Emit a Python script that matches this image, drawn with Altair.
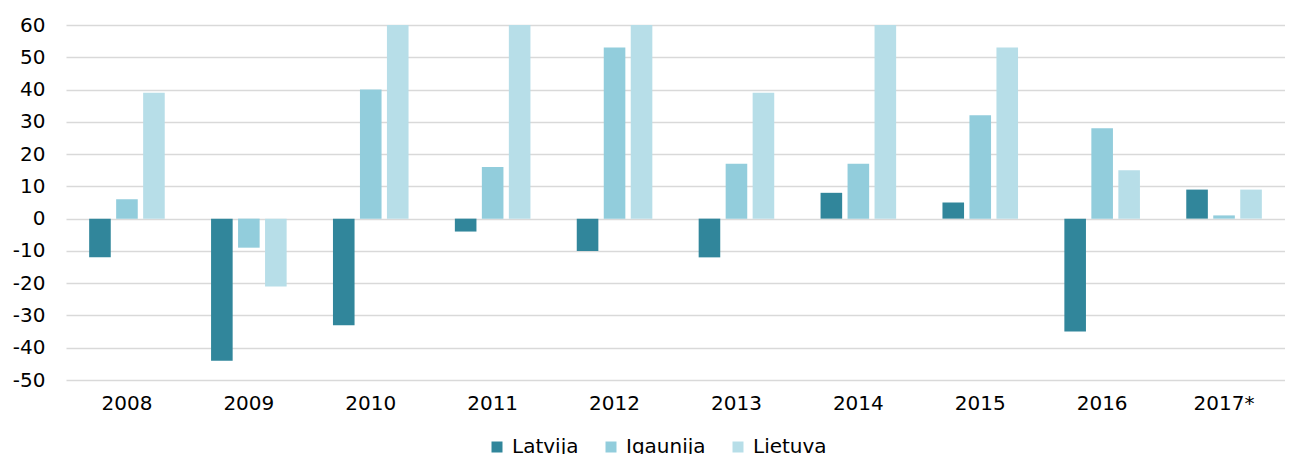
import altair as alt
import pandas as pd

years = ["2008", "2009", "2010", "2011", "2012", "2013", "2014", "2015", "2016", "2017*"]
series = ["Latvija", "Igaunija", "Lietuva"]
latvija = [-12, -44, -33, -4, -10, -12, 8, 5, -35, 9]
igaunija = [6, -9, 40, 16, 53, 17, 17, 32, 28, 1]
lietuva = [39, -21, 60, 60, 60, 39, 60, 53, 15, 9]
colors = ["#31869B", "#92CDDC", "#B7DEE8"]
y_ticks = [-50, -40, -30, -20, -10, 0, 10, 20, 30, 40, 50, 60]

rows = []
for name, vals in zip(series, [latvija, igaunija, lietuva]):
    for yr, v in zip(years, vals):
        rows.append({"year": yr, "series": name, "value": v})
df = pd.DataFrame(rows)

FONT = "DejaVu Sans"
FS = 20

chart = alt.Chart(df).mark_bar(clip=True).encode(
    x=alt.X("year:N", sort=years, title=None,
            scale=alt.Scale(paddingInner=0.38, paddingOuter=0.19),
            axis=alt.Axis(labelAngle=0, ticks=False, tickSize=0, domain=False,
                          labelPadding=13, labelFontSize=FS, labelFont=FONT,
                          labelColor="#000000", grid=False)),
    xOffset=alt.XOffset("series:N", sort=series,
                        scale=alt.Scale(paddingInner=0.2, paddingOuter=0)),
    y=alt.Y("value:Q", title=None,
            scale=alt.Scale(domain=[-50, 60], nice=False, zero=False),
            axis=alt.Axis(values=y_ticks, ticks=False, tickSize=0, domain=False,
                          labelExpr="'' + datum.value",
                          labelPadding=21, labelFontSize=FS, labelFont=FONT,
                          labelColor="#000000", grid=True, gridColor="#D9D9D9",
                          gridWidth=1.7)),
    color=alt.Color("series:N", sort=series, title=None,
                    scale=alt.Scale(domain=series, range=colors),
                    legend=alt.Legend(orient="none", direction="horizontal",
                                      legendX=421, legendY=412,
                                      symbolType="square", symbolSize=121,
                                      symbolStrokeWidth=0,
                                      labelFontSize=FS, labelFont=FONT,
                                      labelColor="#000000", labelOffset=5,
                                      columnPadding=22)),
).properties(
    width=1219, height=355,
    autosize=alt.AutoSizeParams(type="none"),
    padding={"left": 58, "top": 17, "right": 0, "bottom": 74},
).configure_view(stroke=None)

chart.save("out.html", embed_options={"renderer": "svg", "actions": False})
